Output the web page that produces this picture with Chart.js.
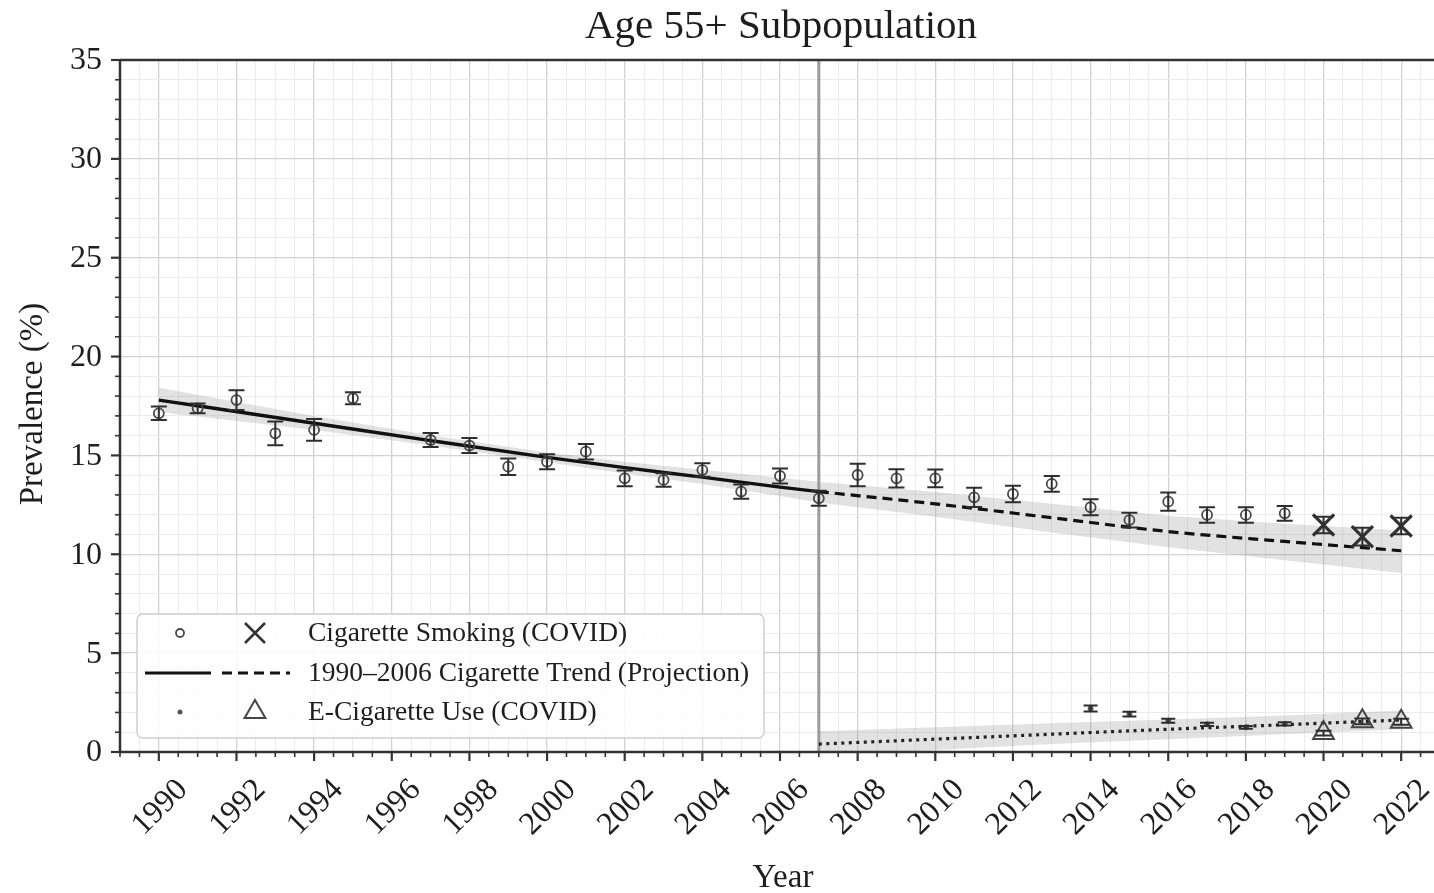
<!DOCTYPE html>
<html>
<head>
<meta charset="utf-8">
<script src="https://cdn.jsdelivr.net/npm/chart.js@4.4.1/dist/chart.umd.min.js"></script>
<style>
  html, body { margin: 0; padding: 0; overflow: hidden; background: #ffffff; }
  #wrap { width: 1440px; height: 893px; }
</style>
</head>
<body>
<div id="wrap"><canvas id="c" width="1440" height="893"></canvas></div>
<script>
// ---- Survey estimates: cigarette smoking, age 55+ ----
const cigYears  = [1990,1991,1992,1993,1994,1995,1997,1998,1999,2000,2001,2002,2003,2004,2005,2006,2007,2008,2009,2010,2011,2012,2013,2014,2015,2016,2017,2018,2019];
const cigValues = [17.13,17.38,17.8,16.12,16.29,17.89,15.78,15.5,14.43,14.68,15.19,13.84,13.76,14.26,13.17,13.96,12.83,14.01,13.84,13.84,12.88,13.05,13.56,12.38,11.73,12.66,11.99,11.99,12.07];
const cigErrors = [0.34,0.25,0.5,0.6,0.55,0.3,0.35,0.38,0.42,0.38,0.39,0.4,0.34,0.34,0.36,0.38,0.38,0.57,0.46,0.45,0.49,0.42,0.4,0.4,0.37,0.46,0.39,0.39,0.37];

// COVID-period cigarette estimates
const covidYears     = [2020, 2021, 2022];
const cigCovidValues = [11.48, 10.89, 11.43];
const cigCovidErrors = [0.42, 0.45, 0.42];

// E-cigarette use
const ecigYears  = [2014, 2015, 2016, 2017, 2018, 2019];
const ecigValues = [2.2, 1.92, 1.58, 1.4, 1.25, 1.42];
const ecigErrors = [0.15, 0.12, 0.1, 0.08, 0.07, 0.08];
const ecigCovidValues = [0.96, 1.55, 1.53];
const ecigCovidErrors = [0.12, 0.15, 0.15];

// 1990-2006 fitted cigarette trend with its band
const trendYears = [1990, 1994, 1997, 2000, 2002, 2004, 2006, 2007];
const trendValues = [17.8, 16.63, 15.75, 14.9, 14.38, 13.9, 13.4, 13.17];
const trendUpper  = [18.42, 17.0, 16.02, 15.15, 14.68, 14.27, 13.87, 13.67];
const trendLower  = [17.2, 16.28, 15.5, 14.65, 14.08, 13.55, 12.95, 12.62];

// Projection of that trend past 2007
const projYears  = [2007, 2010, 2013, 2016, 2019, 2022];
const projValues = [13.17, 12.55, 11.85, 11.15, 10.65, 10.18];
const projUpper  = [13.67, 13.15, 12.55, 11.95, 11.55, 11.2];
const projLower  = [12.62, 11.9, 11.1, 10.35, 9.7, 9.05];

// E-cigarette trend line with its band
const ecigTrendYears  = [2007, 2010, 2013, 2016, 2019, 2022];
const ecigTrendValues = [0.4, 0.65, 0.9, 1.15, 1.38, 1.62];
const ecigTrendUpper  = [1.05, 1.25, 1.45, 1.65, 1.85, 2.1];
const ecigTrendLower  = [-0.25, 0.1, 0.4, 0.65, 0.9, 1.15];

// Axis ticks
const xTickYears = [1990,1992,1994,1996,1998,2000,2002,2004,2006,2008,2010,2012,2014,2016,2018,2020,2022];
const yTickValues = [0, 5, 10, 15, 20, 25, 30, 35];
const breakYear = 2007;

const titleText = 'Age 55+ Subpopulation';
const xTitle = 'Year';
const yTitle = 'Prevalence (%)';
const legendLabels = ['Cigarette Smoking (COVID)', '1990\u20132006 Cigarette Trend (Projection)', 'E-Cigarette Use (COVID)'];

const SERIF = '"Liberation Serif", "Times New Roman", serif';
const INK = '#1e1e1e';
const BAND = 'rgba(150,150,150,0.28)';

const pts = (xs, ys) => xs.map((x, i) => ({ x: x, y: ys[i] }));

function bandPair(xs, up, lo) {
  return [
    { data: pts(xs, up), fill: '+1', backgroundColor: BAND, borderWidth: 0, pointRadius: 0, order: 3 },
    { data: pts(xs, lo), fill: false, borderWidth: 0, pointRadius: 0, order: 3 }
  ];
}

const datasets = [
  // markers
  { data: pts(cigYears, cigValues), showLine: false, pointStyle: 'circle', pointRadius: 5,
    pointBorderWidth: 1.8, pointBorderColor: '#4a4a4a', pointBackgroundColor: 'rgba(0,0,0,0)', order: 0 },
  { data: pts(covidYears, cigCovidValues), showLine: false, pointStyle: 'crossRot', pointRadius: 15,
    pointBorderWidth: 3.2, pointBorderColor: '#333', order: 0 },
  { data: pts(ecigYears, ecigValues), showLine: false, pointStyle: 'circle', pointRadius: 2.5,
    pointBorderWidth: 1, pointBorderColor: '#555', pointBackgroundColor: '#555', order: 0 },
  { data: pts(covidYears, ecigCovidValues), showLine: false, pointStyle: 'triangle', pointRadius: 12,
    pointBorderWidth: 2, pointBorderColor: '#444', pointBackgroundColor: 'rgba(0,0,0,0)', order: 0 },
  // trend lines
  { data: pts(trendYears, trendValues), borderColor: '#111', borderWidth: 3.4, pointRadius: 0,
    cubicInterpolationMode: 'monotone', fill: false, order: 1 },
  { data: pts(projYears, projValues), borderColor: '#111', borderWidth: 3.2, borderDash: [10, 6], pointRadius: 0,
    cubicInterpolationMode: 'monotone', fill: false, order: 1 },
  { data: pts(ecigTrendYears, ecigTrendValues), borderColor: '#222', borderWidth: 3.2, borderDash: [3, 4.5], pointRadius: 0,
    cubicInterpolationMode: 'monotone', fill: false, order: 1 },
  // confidence bands
  ...bandPair(trendYears, trendUpper, trendLower),
  ...bandPair(projYears, projUpper, projLower),
  ...bandPair(ecigTrendYears, ecigTrendUpper, ecigTrendLower)
];

function drawErrorBars(chart, years, values, errors, capHalf) {
  const xs = chart.scales.x, ys = chart.scales.y, ctx = chart.ctx;
  ctx.save();
  ctx.strokeStyle = '#2e2e2e';
  ctx.lineWidth = 2;
  years.forEach((yr, i) => {
    const px = xs.getPixelForValue(yr);
    const top = ys.getPixelForValue(values[i] + errors[i]);
    const bot = ys.getPixelForValue(values[i] - errors[i]);
    ctx.beginPath();
    ctx.moveTo(px, top); ctx.lineTo(px, bot);
    ctx.moveTo(px - capHalf, top); ctx.lineTo(px + capHalf, top);
    ctx.moveTo(px - capHalf, bot); ctx.lineTo(px + capHalf, bot);
    ctx.stroke();
  });
  ctx.restore();
}

const decorations = {
  id: 'decorations',
  beforeDatasetsDraw(chart) {
    const ctx = chart.ctx, ca = chart.chartArea;
    const bx = chart.scales.x.getPixelForValue(breakYear);
    ctx.save();
    ctx.strokeStyle = '#9c9c9c';
    ctx.lineWidth = 3;
    ctx.beginPath(); ctx.moveTo(bx, ca.top); ctx.lineTo(bx, ca.bottom); ctx.stroke();
    ctx.restore();
  },
  afterDatasetsDraw(chart) {
    drawErrorBars(chart, cigYears, cigValues, cigErrors, 8);
    drawErrorBars(chart, covidYears, cigCovidValues, cigCovidErrors, 10);
    drawErrorBars(chart, ecigYears, ecigValues, ecigErrors, 7);
    drawErrorBars(chart, covidYears, ecigCovidValues, ecigCovidErrors, 8);
  },
  afterDraw(chart) {
    const ctx = chart.ctx, ca = chart.chartArea;
    const xs = chart.scales.x, ys = chart.scales.y;
    ctx.save();

    // spines
    ctx.strokeStyle = '#333';
    ctx.lineWidth = 2.5;
    ctx.beginPath();
    ctx.moveTo(ca.left, ca.top); ctx.lineTo(ca.right + 2, ca.top);
    ctx.moveTo(ca.left, ca.top); ctx.lineTo(ca.left, ca.bottom);
    ctx.moveTo(ca.left - 1, ca.bottom); ctx.lineTo(ca.right + 2, ca.bottom);
    ctx.stroke();

    // x tick marks
    xs.ticks.forEach(t => {
      const px = xs.getPixelForValue(t.value);
      const major = t.value % 2 === 0;
      ctx.lineWidth = major ? 2.2 : 1.6;
      ctx.beginPath(); ctx.moveTo(px, ca.bottom); ctx.lineTo(px, ca.bottom + (major ? 9 : 5)); ctx.stroke();
    });
    // y tick marks
    ys.ticks.forEach(t => {
      const py = ys.getPixelForValue(t.value);
      const major = t.value % 5 === 0;
      ctx.lineWidth = major ? 2.2 : 1.6;
      ctx.beginPath(); ctx.moveTo(ca.left, py); ctx.lineTo(ca.left - (major ? 9 : 5), py); ctx.stroke();
    });

    ctx.fillStyle = INK;
    // y tick labels
    ctx.font = '32px ' + SERIF;
    ctx.textAlign = 'right';
    ctx.textBaseline = 'middle';
    yTickValues.forEach(v => ctx.fillText(String(v), ca.left - 18, ys.getPixelForValue(v) + 1));

    // x tick labels, rotated 45 degrees and centred under their tick
    const fs = 32;
    ctx.font = fs + 'px ' + SERIF;
    ctx.textAlign = 'center';
    ctx.textBaseline = 'middle';
    xTickYears.forEach(yr => {
      const label = String(yr);
      const w = ctx.measureText(label).width;
      const h = fs * 0.66;
      const half = (w + h) / (2 * Math.SQRT2);
      const cx = xs.getPixelForValue(yr);
      const cy = ca.bottom + 24 + half;
      ctx.save();
      ctx.translate(cx, cy);
      ctx.rotate(-Math.PI / 4);
      ctx.fillText(label, 0, 2);
      ctx.restore();
    });

    // axis titles
    const midX = (ca.left + ca.right) / 2;
    ctx.font = '33px ' + SERIF;
    ctx.fillText(xTitle, 783, 878);
    ctx.save();
    ctx.translate(33, 404);
    ctx.rotate(-Math.PI / 2);
    ctx.fillText(yTitle, 0, 0);
    ctx.restore();

    // chart title
    ctx.font = '41px ' + SERIF;
    ctx.fillText(titleText, 781, 27);

    // legend
    const L = { x: 137, y: 614, w: 627, h: 124 };
    ctx.fillStyle = 'rgba(255,255,255,0.85)';
    ctx.strokeStyle = '#cfcfcf';
    ctx.lineWidth = 1.5;
    ctx.beginPath();
    ctx.roundRect(L.x, L.y, L.w, L.h, 6);
    ctx.fill(); ctx.stroke();

    const rows = [633, 673, 712];
    const c1 = 180, c2 = 255;
    // row 1: open circle and cross
    ctx.strokeStyle = '#4a4a4a'; ctx.lineWidth = 1.8;
    ctx.beginPath(); ctx.arc(c1, rows[0], 4, 0, Math.PI * 2); ctx.stroke();
    ctx.strokeStyle = '#333'; ctx.lineWidth = 2.5;
    ctx.beginPath();
    ctx.moveTo(c2 - 10, rows[0] - 10); ctx.lineTo(c2 + 10, rows[0] + 10);
    ctx.moveTo(c2 + 10, rows[0] - 10); ctx.lineTo(c2 - 10, rows[0] + 10);
    ctx.stroke();
    // row 2: solid and dashed line
    ctx.strokeStyle = '#111'; ctx.lineWidth = 3;
    ctx.beginPath(); ctx.moveTo(145, rows[1]); ctx.lineTo(211, rows[1]); ctx.stroke();
    ctx.setLineDash([10, 6]);
    ctx.beginPath(); ctx.moveTo(222, rows[1]); ctx.lineTo(290, rows[1]); ctx.stroke();
    ctx.setLineDash([]);
    // row 3: dot and open triangle
    ctx.fillStyle = '#555';
    ctx.beginPath(); ctx.arc(c1, rows[2], 2.5, 0, Math.PI * 2); ctx.fill();
    ctx.strokeStyle = '#444'; ctx.lineWidth = 2;
    ctx.beginPath();
    ctx.moveTo(c2, rows[2] - 12); ctx.lineTo(c2 + 10.4, rows[2] + 6); ctx.lineTo(c2 - 10.4, rows[2] + 6); ctx.closePath();
    ctx.stroke();

    ctx.fillStyle = INK;
    ctx.font = '27.5px ' + SERIF;
    ctx.textAlign = 'left';
    ctx.textBaseline = 'middle';
    legendLabels.forEach((t, i) => ctx.fillText(t, 308, rows[i] + 1));

    ctx.restore();
  }
};

new Chart(document.getElementById('c'), {
  type: 'line',
  data: { datasets: datasets },
  options: {
    responsive: false,
    animation: false,
    events: [],
    layout: { autoPadding: false, padding: { left: 0, top: 60, right: 0, bottom: 0 } },
    plugins: { legend: { display: false }, tooltip: { enabled: false }, title: { display: false } },
    scales: {
      x: {
        type: 'linear', min: 1989, max: 2023,
        afterFit: s => { s.height = 141; },
        ticks: { display: false, stepSize: 0.5, autoSkip: false },
        border: { display: false },
        grid: {
          drawTicks: false,
          color: c => (c.tick && c.tick.value % 2 === 0) ? '#d2d2d2' : '#ebebeb',
          lineWidth: c => (c.tick && c.tick.value % 2 === 0) ? 1.3 : 1
        }
      },
      y: {
        type: 'linear', min: 0, max: 35,
        afterFit: s => { s.width = 120; },
        ticks: { display: false, stepSize: 1, autoSkip: false },
        border: { display: false },
        grid: {
          drawTicks: false,
          color: c => (c.tick && c.tick.value % 5 === 0) ? '#d2d2d2' : '#ebebeb',
          lineWidth: c => (c.tick && c.tick.value % 5 === 0) ? 1.3 : 1
        }
      }
    }
  },
  plugins: [decorations]
});
</script>
</body>
</html>
